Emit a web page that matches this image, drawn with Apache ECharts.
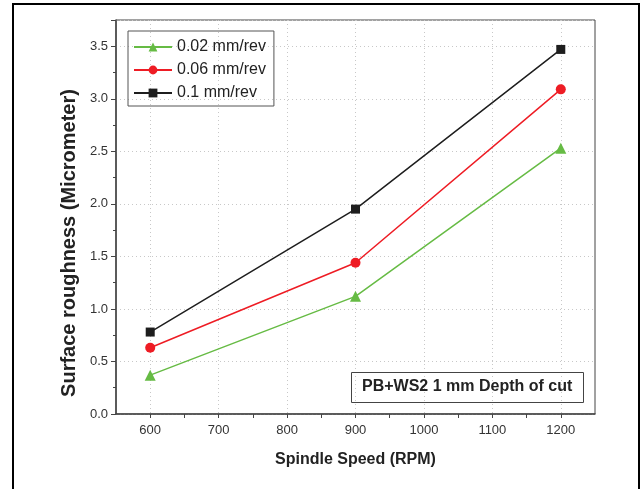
<!DOCTYPE html>
<html>
<head>
<meta charset="utf-8">
<script src="https://cdn.jsdelivr.net/npm/echarts@6/dist/echarts.min.js"></script>
<style>
  html, body { margin: 0; padding: 0; background: #fff; }
  #chart { width: 641px; height: 489px; }
</style>
</head>
<body>
<div id="chart"></div>
<script>
const speeds = [600, 900, 1200];
const feed002 = [0.37, 1.12, 2.53];
const feed006 = [0.63, 1.44, 3.09];
const feed01 = [0.78, 1.95, 3.47];
const seriesNames = ['0.02 mm/rev', '0.06 mm/rev', '0.1 mm/rev'];

const pairs = vals => speeds.map((s, i) => [s, vals[i]]);

const chart = echarts.init(document.getElementById('chart'));

const option = {
    animation: false,
    textStyle: { fontFamily: 'Liberation Sans, Arial, sans-serif' },
    graphic: [
        {
            type: 'rect',
            shape: { x: 13, y: 4, width: 626, height: 520 },
            style: { fill: 'none', stroke: '#000', lineWidth: 2 },
            silent: true
        }
    ],
    title: {
        text: 'PB+WS2 1 mm Depth of cut',
        left: 351,
        top: 372,
        padding: [7, 11, 8, 11],
        borderColor: '#444',
        borderWidth: 1,
        textStyle: { fontSize: 16, fontWeight: 'bold', color: '#222' }
    },
    legend: {
        data: seriesNames,
        orient: 'vertical',
        left: 128,
        top: 31,
        padding: [8, 8, 5, 5],
        itemWidth: 38,
        itemHeight: 11,
        itemGap: 7,
        borderColor: '#555',
        borderWidth: 1,
        textStyle: { fontSize: 16, lineHeight: 16, color: '#222' }
    },
    grid: {
        left: 116,
        right: 46,
        top: 20,
        bottom: 75,
        show: true,
        borderColor: '#444',
        borderWidth: 1
    },
    xAxis: {
        type: 'value',
        min: 550,
        max: 1250,
        interval: 50,
        name: 'Spindle Speed (RPM)',
        nameLocation: 'middle',
        nameGap: 38,
        nameTextStyle: { fontSize: 16, fontWeight: 'bold', color: '#222' },
        axisLine: { lineStyle: { color: '#444', width: 1.5 } },
        axisTick: { length: 4, lineStyle: { color: '#444' } },
        axisLabel: {
            fontSize: 13,
            color: '#333',
            margin: 10,
            showMinLabel: false,
            showMaxLabel: false,
            formatter: v => (v % 100 === 0 ? String(v) : '')
        },
        splitLine: {
            show: true,
            lineStyle: { color: ['rgba(0,0,0,0)', '#c8c8c8'], type: [1, 3] }
        }
    },
    yAxis: {
        type: 'value',
        min: 0,
        max: 3.75,
        interval: 0.5,
        name: 'Surface roughness (Micrometer)',
        nameLocation: 'middle',
        nameGap: 37,
        nameTextStyle: { fontSize: 20, fontWeight: 'bold', color: '#222', padding: [0, 52, 0, 0] },
        axisLine: { show: true, lineStyle: { color: '#444', width: 1.5 } },
        axisTick: { show: true, length: 5, lineStyle: { color: '#444' } },
        minorTick: { show: true, splitNumber: 2, length: 3, lineStyle: { color: '#444' } },
        axisLabel: {
            fontSize: 13,
            color: '#333',
            margin: 8,
            showMaxLabel: false,
            formatter: v => v.toFixed(1)
        },
        splitLine: {
            show: true,
            lineStyle: { color: '#c8c8c8', type: [1, 3] }
        }
    },
    series: [
        {
            name: seriesNames[0],
            type: 'line',
            data: pairs(feed002),
            symbol: 'triangle',
            symbolSize: 11,
            color: '#66bb44',
            lineStyle: { width: 1.5 }
        },
        {
            name: seriesNames[1],
            type: 'line',
            data: pairs(feed006),
            symbol: 'circle',
            symbolSize: 10,
            color: '#ee1c24',
            lineStyle: { width: 1.5 }
        },
        {
            name: seriesNames[2],
            type: 'line',
            data: pairs(feed01),
            symbol: 'rect',
            symbolSize: 9,
            color: '#1e1e1e',
            lineStyle: { width: 1.5 }
        }
    ]
};

chart.setOption(option);
</script>
</body>
</html>
